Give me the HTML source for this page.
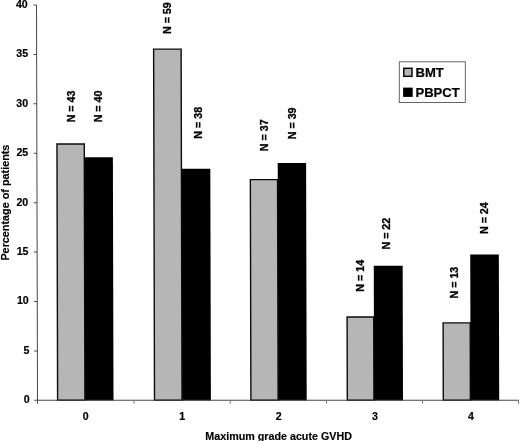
<!DOCTYPE html><html><head><meta charset="utf-8"><title>chart</title><style>html,body{margin:0;padding:0;background:#fff}</style></head><body><svg width="520" height="441" viewBox="0 0 520 441" style="display:block;font-family:'Liberation Sans',Arial,sans-serif;font-weight:bold">
<rect width="520" height="441" fill="#fff"/>
<g>
<g transform="translate(-1.0,0) skewX(0.143)">
<rect x="57.60" y="144.05" width="27.30" height="256.25" fill="#b6b6b6" stroke="#0c0c0c" stroke-width="1.4"/>
<rect x="85.10" y="157.30" width="28.40" height="243.30" fill="#000"/>
<rect x="154.50" y="49.15" width="27.50" height="351.15" fill="#b6b6b6" stroke="#0c0c0c" stroke-width="1.4"/>
<rect x="182.20" y="168.80" width="28.70" height="231.80" fill="#000"/>
<rect x="250.90" y="179.65" width="27.20" height="220.65" fill="#b6b6b6" stroke="#0c0c0c" stroke-width="1.4"/>
<rect x="278.30" y="163.00" width="28.40" height="237.60" fill="#000"/>
<rect x="347.30" y="316.95" width="26.60" height="83.35" fill="#b6b6b6" stroke="#0c0c0c" stroke-width="1.4"/>
<rect x="374.10" y="265.80" width="28.90" height="134.80" fill="#000"/>
<rect x="443.30" y="322.85" width="27.10" height="77.45" fill="#b6b6b6" stroke="#0c0c0c" stroke-width="1.4"/>
<rect x="470.60" y="254.40" width="28.60" height="146.20" fill="#000"/>
<g stroke="#484848" stroke-width="1" fill="none">
<path d="M37.5 5 V403.8"/>
<path d="M34.3 400.3 H519"/>
<path d="M34.3 350.9 H37.5"/>
<path d="M34.3 301.5 H37.5"/>
<path d="M34.3 252.1 H37.5"/>
<path d="M34.3 202.7 H37.5"/>
<path d="M34.3 153.2 H37.5"/>
<path d="M34.3 103.8 H37.5"/>
<path d="M34.3 54.4 H37.5"/>
<path d="M34.3 5.0 H37.5"/>
<path d="M134 400.3 V403.8" stroke="#777"/>
<path d="M230.25 400.3 V403.8" stroke="#777"/>
<path d="M326.5 400.3 V403.8" stroke="#777"/>
<path d="M422.5 400.3 V403.8" stroke="#777"/>
<path d="M518.5 400.3 V403.8" stroke="#777"/>
</g>
</g>
<text x="29.65" y="403.30" font-size="10.6" text-anchor="end" stroke="#000" stroke-width="0.2">0</text>
<text x="29.45" y="353.89" font-size="10.6" text-anchor="end" stroke="#000" stroke-width="0.2">5</text>
<text x="28.75" y="304.48" font-size="10.6" text-anchor="end" stroke="#000" stroke-width="0.2">10</text>
<text x="28.45" y="255.06" font-size="10.6" text-anchor="end" stroke="#000" stroke-width="0.2">15</text>
<text x="28.25" y="205.65" font-size="10.6" text-anchor="end" stroke="#000" stroke-width="0.2">20</text>
<text x="28.25" y="156.24" font-size="10.6" text-anchor="end" stroke="#000" stroke-width="0.2">25</text>
<text x="28.15" y="106.82" font-size="10.6" text-anchor="end" stroke="#000" stroke-width="0.2">30</text>
<text x="28.05" y="57.41" font-size="10.6" text-anchor="end" stroke="#000" stroke-width="0.2">35</text>
<text x="27.75" y="8.35" font-size="10.6" text-anchor="end" stroke="#000" stroke-width="0.2">40</text>
<text x="85.7" y="419.5" font-size="10.6" text-anchor="middle" stroke="#000" stroke-width="0.2">0</text>
<text x="182.1" y="419.5" font-size="10.6" text-anchor="middle" stroke="#000" stroke-width="0.2">1</text>
<text x="278.7" y="419.5" font-size="10.6" text-anchor="middle" stroke="#000" stroke-width="0.2">2</text>
<text x="374.9" y="419.5" font-size="10.6" text-anchor="middle" stroke="#000" stroke-width="0.2">3</text>
<text x="470.95" y="419.5" font-size="10.6" text-anchor="middle" stroke="#000" stroke-width="0.2">4</text>
<text x="205.3" y="439.65" font-size="10.3" textLength="146.6" lengthAdjust="spacingAndGlyphs" stroke="#000" stroke-width="0.15">Maximum grade acute GVHD</text>
<text transform="translate(8.9,260.6) rotate(-90)" font-size="10.4" textLength="116" lengthAdjust="spacingAndGlyphs" stroke="#000" stroke-width="0.15">Percentage of patients</text>
<text transform="translate(74.68,122.36) rotate(-90)" font-size="10.7" stroke="#000" stroke-width="0.3">N = 43</text>
<text transform="translate(101.68,122.36) rotate(-90)" font-size="10.7" stroke="#000" stroke-width="0.3">N = 40</text>
<text transform="translate(171.38,34.06) rotate(-90)" font-size="10.7" stroke="#000" stroke-width="0.3">N = 59</text>
<text transform="translate(201.68,138.65) rotate(-90)" font-size="10.7" stroke="#000" stroke-width="0.3">N = 38</text>
<text transform="translate(268.38,151.20) rotate(-90)" font-size="10.7" stroke="#000" stroke-width="0.3">N = 37</text>
<text transform="translate(296.27,139.26) rotate(-90)" font-size="10.7" stroke="#000" stroke-width="0.3">N = 39</text>
<text transform="translate(363.52,291.63) rotate(-90)" font-size="10.7" stroke="#000" stroke-width="0.3">N = 14</text>
<text transform="translate(390.02,249.56) rotate(-90)" font-size="10.7" stroke="#000" stroke-width="0.3">N = 22</text>
<text transform="translate(457.77,298.51) rotate(-90)" font-size="10.7" stroke="#000" stroke-width="0.3">N = 13</text>
<text transform="translate(487.67,234.03) rotate(-90)" font-size="10.7" stroke="#000" stroke-width="0.3">N = 24</text>
<rect x="399.3" y="61.8" width="66" height="40.7" fill="#fff" stroke="#555" stroke-width="0.9"/>
<rect x="403.8" y="68.3" width="8.2" height="8" fill="#b6b6b6" stroke="#0a0a0a" stroke-width="1.5"/>
<rect x="403.1" y="87.6" width="9.6" height="9.3" fill="#000"/>
<text x="415.5" y="76.7" font-size="13.05" stroke="#000" stroke-width="0.2">BMT</text>
<text x="415.5" y="96.7" font-size="13.05" stroke="#000" stroke-width="0.2">PBPCT</text>
</g>
</svg></body></html>
